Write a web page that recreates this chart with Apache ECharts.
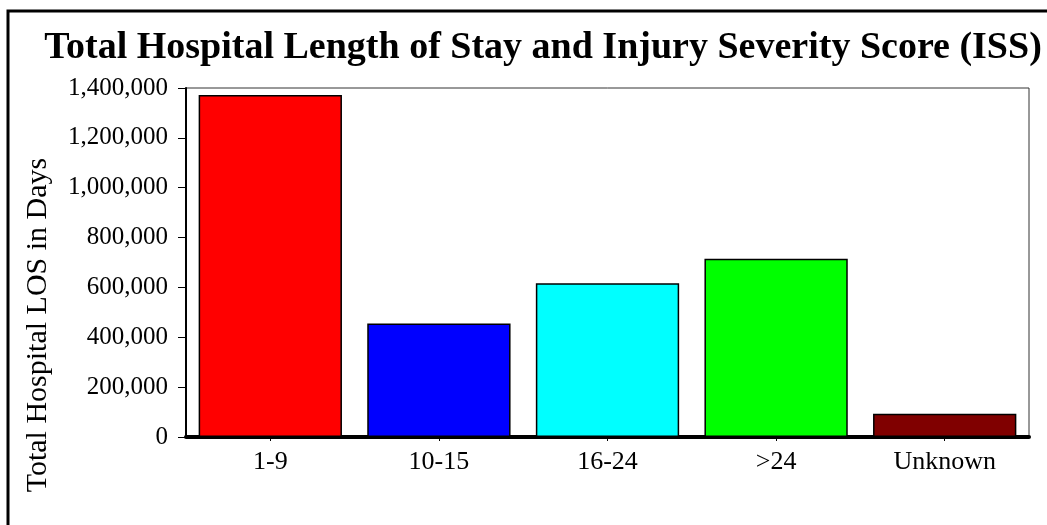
<!DOCTYPE html>
<html>
<head>
<meta charset="utf-8">
<script src="https://cdn.jsdelivr.net/npm/echarts@6/dist/echarts.min.js"></script>
<style>
  html, body { margin: 0; padding: 0; background: #fff; }
  #chart { width: 1047px; height: 525px; }
</style>
</head>
<body>
<div id="chart"></div>
<script>
// ISS groups and total LOS (days)
const categories = ['1-9', '10-15', '16-24', '>24', 'Unknown'];
const losDays = [1372000, 455000, 617000, 715000, 93000];
const barColors = ['#FF0000', '#0000FF', '#00FFFF', '#00FF00', '#800000'];

const serif = '"Liberation Serif", "DejaVu Serif", serif';

const chart = echarts.init(document.getElementById('chart'));
chart.setOption({
    animation: false,
    backgroundColor: '#ffffff',
    title: {
        text: 'Total Hospital Length of Stay and Injury Severity Score (ISS)',
        left: 538,
        textAlign: 'center',
        top: 24,
        textStyle: {
            fontFamily: serif,
            fontWeight: 'bold',
            fontSize: 38,
            color: '#000'
        }
    },
    graphic: [{
        // outer frame, cut off at the right and bottom like the original
        type: 'rect',
        shape: { x: 8, y: 11, width: 1100, height: 600 },
        style: { fill: 'none', stroke: '#000', lineWidth: 3 },
        silent: true
    }, {
        // axis title sits lower than the plot centre in the original
        type: 'text',
        x: 38,
        y: 325,
        rotation: Math.PI / 2,
        style: {
            text: 'Total Hospital LOS in Days',
            fontFamily: serif,
            fontSize: 30,
            fill: '#000',
            textAlign: 'center',
            textVerticalAlign: 'middle'
        },
        silent: true
    }],
    grid: {
        left: 186,
        right: 18,
        top: 88,
        bottom: 88,
        show: true,
        borderColor: '#333',
        borderWidth: 1,
        backgroundColor: 'transparent'
    },
    xAxis: {
        type: 'category',
        data: categories,
        axisLine: { lineStyle: { color: '#000', width: 4 } },
        axisTick: { show: true, alignWithLabel: true, length: 4, lineStyle: { color: '#000' } },
        axisLabel: {
            fontFamily: serif,
            fontSize: 26,
            color: '#000',
            margin: 12
        }
    },
    yAxis: {
        type: 'value',
        min: 0,
        max: 1400000,
        interval: 200000,
        axisLine: { show: true, lineStyle: { color: '#000', width: 2 } },
        axisTick: { show: true, length: 8, lineStyle: { color: '#000', width: 1 } },
        splitLine: { show: false },
        axisLabel: {
            fontFamily: serif,
            fontSize: 25,
            color: '#000',
            margin: 18,
            formatter: (v) => v.toLocaleString('en-US')
        }
    },
    series: [{
        type: 'bar',
        data: losDays.map((v, i) => ({
            value: v,
            itemStyle: { color: barColors[i] }
        })),
        barCategoryGap: '15%',
        itemStyle: {
            borderColor: '#000',
            borderWidth: 1.5
        }
    }]
});
</script>
</body>
</html>
